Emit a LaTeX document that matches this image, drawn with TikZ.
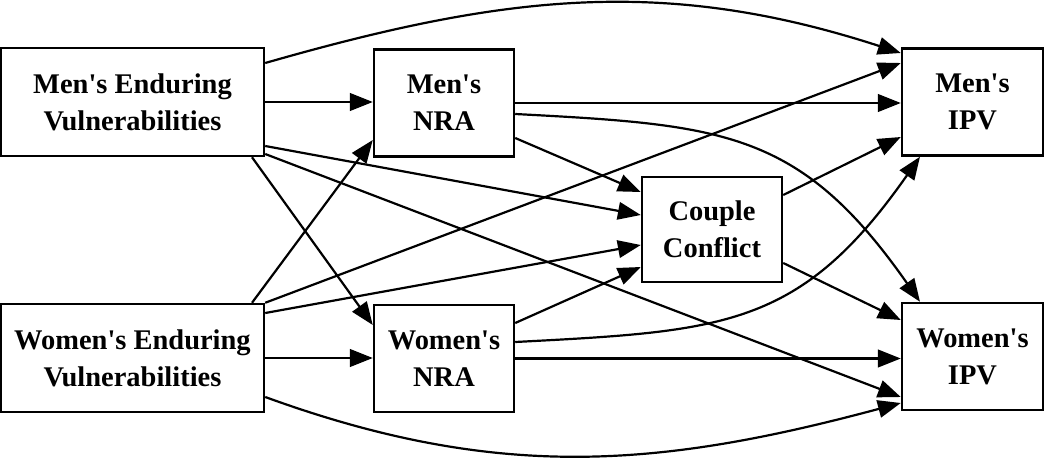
\documentclass[tikz,border=0pt]{standalone}
\usepackage{fontspec}
\setmainfont{Liberation Serif}
\usetikzlibrary{arrows.meta}

\begin{document}
\begin{tikzpicture}[
    every node/.style={font=\fontsize{16.2}{21}\selectfont\bfseries},
    wide/.style={draw, line width=1.4pt, minimum width=5.26cm, minimum height=2.16cm, align=center, inner sep=0pt},
    box/.style={draw, line width=1.4pt, minimum width=2.8cm, minimum height=2.14cm, align=center, inner sep=0pt},
    ar/.style={-{Triangle[length=13pt, width=10pt]}, line width=1.25pt}
]
\useasboundingbox (0,0) rectangle (21,-9.26);
% Left column: enduring vulnerabilities
\node[wide] (mev) at (2.65,-2.04) {Men\textquotesingle s Enduring\\Vulnerabilities};
\node[wide] (wev) at (2.65,-7.16) {Women\textquotesingle s Enduring\\Vulnerabilities};
% Middle: NRA and conflict
\node[box] (mnra) at (8.88,-2.06) {Men\textquotesingle s\\NRA};
\node[box] (wnra) at (8.88,-7.17) {Women\textquotesingle s\\NRA};
\node[box, minimum height=2.1cm] (cc) at (14.24,-4.59) {Couple\\Conflict};
% Right column: IPV
\node[box, minimum width=2.82cm] (mipv) at (19.45,-2.04) {Men\textquotesingle s\\IPV};
\node[box, minimum width=2.82cm] (wipv) at (19.45,-7.13) {Women\textquotesingle s\\IPV};
% from men's vulnerabilities
\draw[ar] (mev.east) -- (mev.east -| mnra.west);
\draw[ar] ([yshift=0.78cm]mev.east) to[out=16, in=162] ([yshift=0.98cm]mipv.west);
\draw[ar] ([yshift=-0.88cm]mev.east) -- ([yshift=0.29cm]cc.west);
\draw[ar] ([yshift=-1.04cm]mev.east) -- ([yshift=-0.81cm]wipv.west);
\draw[ar] ([xshift=2.39cm]mev.south) -- ([yshift=0.67cm]wnra.west);
% from women's vulnerabilities
\draw[ar] (wev.east) -- (wev.east -| wnra.west);
\draw[ar] ([xshift=2.39cm]wev.north) -- ([yshift=-0.74cm]mnra.west);
\draw[ar] (wev.north east) -- ([yshift=0.78cm]mipv.west);
\draw[ar] ([yshift=0.9cm]wev.east) -- ([yshift=-0.31cm]cc.west);
\draw[ar] ([yshift=-0.78cm]wev.east) to[out=-20, in=-165] ([yshift=-0.93cm]wipv.west);
% from NRA
\draw[ar] (mnra.east) -- (mnra.east -| mipv.west);
\draw[ar] ([yshift=-0.7cm]mnra.east) -- ([yshift=0.75cm]cc.west);
\draw[ar] ([yshift=-0.22cm]mnra.east) to[out=-3, in=125, looseness=1.2] ([xshift=-1.05cm]wipv.north);
\draw[ar] (wnra.east) -- (wnra.east -| wipv.west);
\draw[ar] ([yshift=0.71cm]wnra.east) -- ([yshift=-0.75cm]cc.west);
\draw[ar] ([yshift=0.33cm]wnra.east) to[out=3, in=-125, looseness=1.2] ([xshift=-1.05cm]mipv.south);
% from couple conflict
\draw[ar] ([yshift=0.69cm]cc.east) -- ([yshift=-0.7cm]mipv.west);
\draw[ar] ([yshift=-0.67cm]cc.east) -- ([yshift=0.73cm]wipv.west);
\end{tikzpicture}
\end{document}
